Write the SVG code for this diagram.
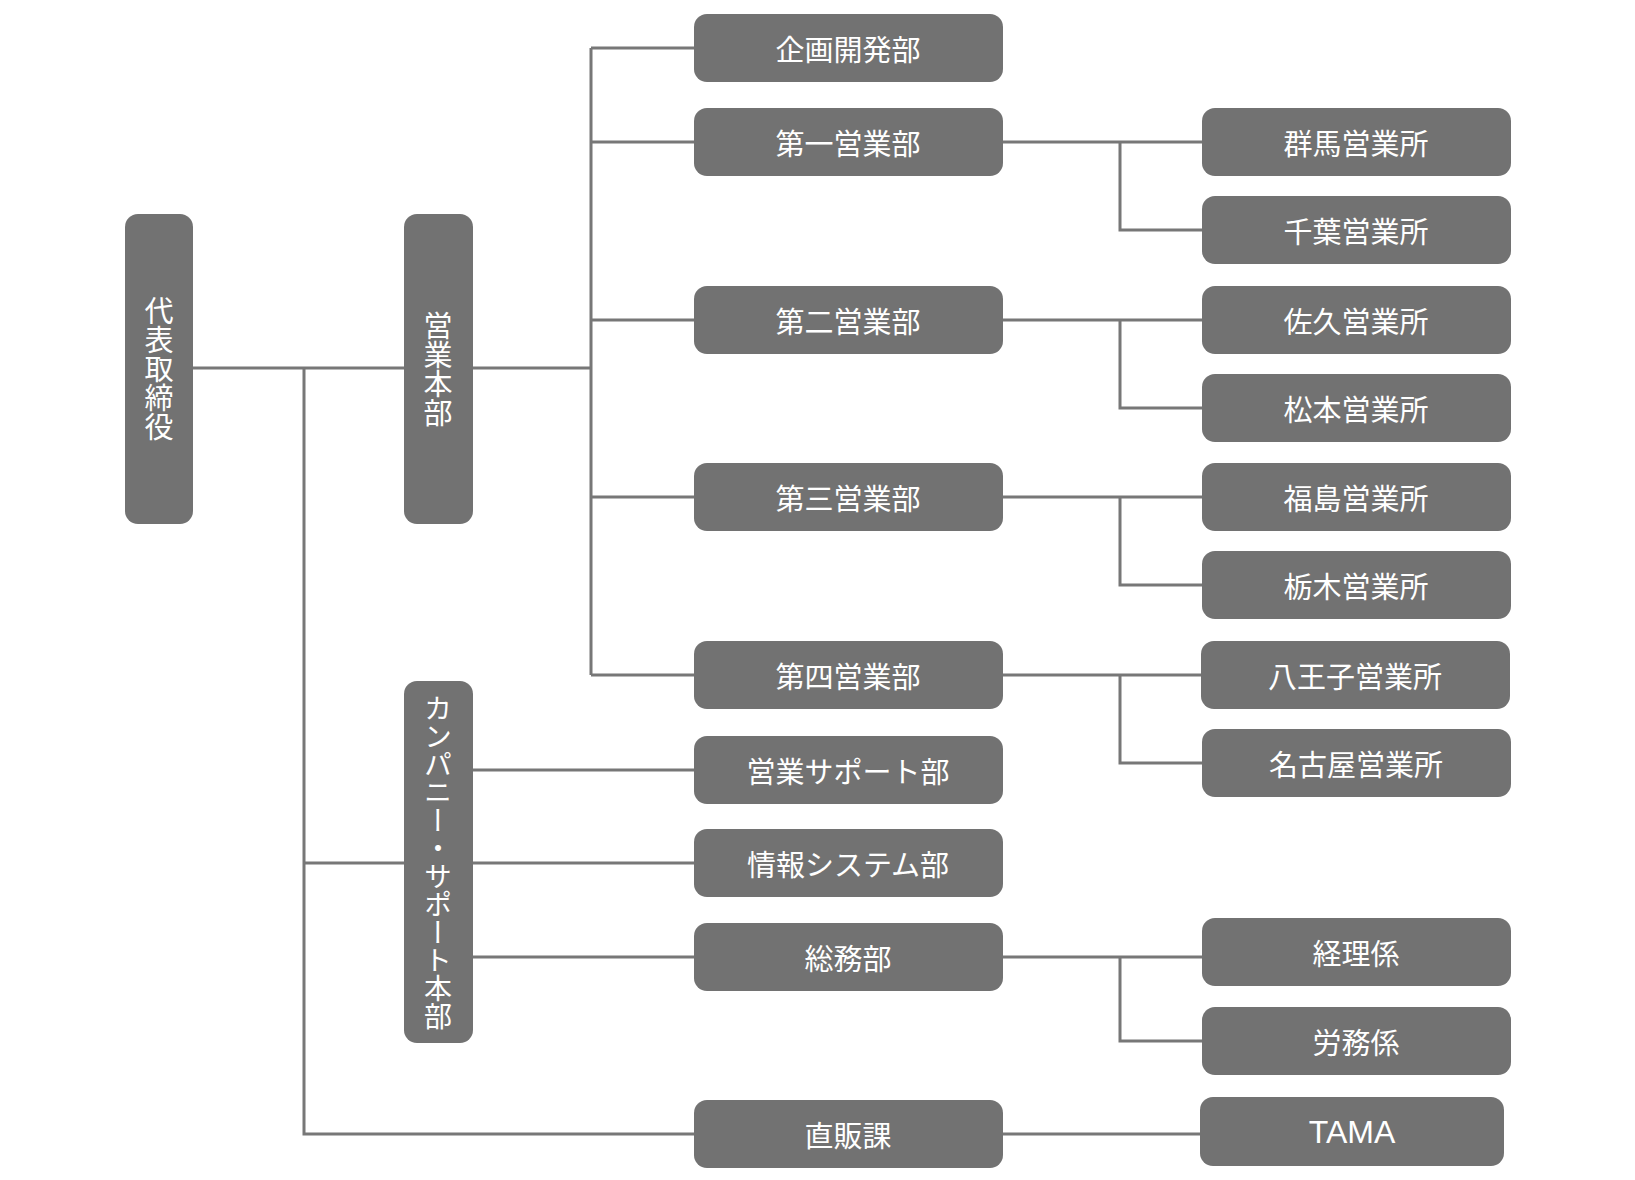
<svg xmlns="http://www.w3.org/2000/svg" width="1635" height="1180" viewBox="0 0 1635 1180">
<style>
.b{fill:#727272}
.t{fill:#fff;font-family:"Noto Sans CJK JP","Noto Sans",sans-serif;font-size:29px;text-anchor:middle;dominant-baseline:central}
.v{fill:#fff;font-family:"Noto Sans CJK JP",sans-serif;font-size:29px;writing-mode:vertical-rl;text-anchor:middle;dominant-baseline:central}
.c{stroke:#777;stroke-width:3;fill:none}
</style>
<rect width="1635" height="1180" fill="#fff"/>
<g id="connectors" class="c">
<path d="M193 368H404M304 368V1134H694M473 368H591M591 48V675M591 48H694M591 142H694M591 320H694M591 497H694M591 675H694"/>
<path d="M304 863H404M473 770H694M473 863H694M473 957H694"/>
<path d="M1003 142H1202M1120 142V230H1202M1003 320H1202M1120 320V408H1202M1003 497H1202M1120 497V585H1202M1003 675H1202M1120 675V763H1202M1003 957H1202M1120 957V1041H1202M1003 1134H1200"/>
</g>
<g id="n-ceo"><rect class="b" x="125" y="214" width="68" height="310" rx="13"/><text class="v" x="159" y="369">代表取締役</text></g>
<g id="n-eigyo"><rect class="b" x="404" y="214" width="69" height="310" rx="13"/><text class="v" x="438" y="369">営業本部</text></g>
<g id="n-company"><rect class="b" x="404" y="681" width="69" height="362" rx="13"/><text class="v" x="438" y="862" style="font-size:28px">カンパニー・サポート本部</text></g>
<g id="n-kikaku"><rect class="b" x="694" y="14" width="309" height="68" rx="13"/><text class="t" x="848" y="48">企画開発部</text></g>
<g id="n-d1"><rect class="b" x="694" y="108" width="309" height="68" rx="13"/><text class="t" x="848" y="142">第一営業部</text></g>
<g id="n-d2"><rect class="b" x="694" y="286" width="309" height="68" rx="13"/><text class="t" x="848" y="320">第二営業部</text></g>
<g id="n-d3"><rect class="b" x="694" y="463" width="309" height="68" rx="13"/><text class="t" x="848" y="497">第三営業部</text></g>
<g id="n-d4"><rect class="b" x="694" y="641" width="309" height="68" rx="13"/><text class="t" x="848" y="675">第四営業部</text></g>
<g id="n-support"><rect class="b" x="694" y="736" width="309" height="68" rx="13"/><text class="t" x="848" y="770">営業サポート部</text></g>
<g id="n-is"><rect class="b" x="694" y="829" width="309" height="68" rx="13"/><text class="t" x="848" y="863">情報システム部</text></g>
<g id="n-soumu"><rect class="b" x="694" y="923" width="309" height="68" rx="13"/><text class="t" x="848" y="957">総務部</text></g>
<g id="n-chokuhan"><rect class="b" x="694" y="1100" width="309" height="68" rx="13"/><text class="t" x="848" y="1134">直販課</text></g>
<g id="n-gunma"><rect class="b" x="1202" y="108" width="309" height="68" rx="13"/><text class="t" x="1356" y="142">群馬営業所</text></g>
<g id="n-chiba"><rect class="b" x="1202" y="196" width="309" height="68" rx="13"/><text class="t" x="1356" y="230">千葉営業所</text></g>
<g id="n-saku"><rect class="b" x="1202" y="286" width="309" height="68" rx="13"/><text class="t" x="1356" y="320">佐久営業所</text></g>
<g id="n-matsumoto"><rect class="b" x="1202" y="374" width="309" height="68" rx="13"/><text class="t" x="1356" y="408">松本営業所</text></g>
<g id="n-fukushima"><rect class="b" x="1202" y="463" width="309" height="68" rx="13"/><text class="t" x="1356" y="497">福島営業所</text></g>
<g id="n-tochigi"><rect class="b" x="1202" y="551" width="309" height="68" rx="13"/><text class="t" x="1356" y="585">栃木営業所</text></g>
<g id="n-hachioji"><rect class="b" x="1201" y="641" width="309" height="68" rx="13"/><text class="t" x="1355" y="675">八王子営業所</text></g>
<g id="n-nagoya"><rect class="b" x="1202" y="729" width="309" height="68" rx="13"/><text class="t" x="1356" y="763">名古屋営業所</text></g>
<g id="n-keiri"><rect class="b" x="1202" y="918" width="309" height="68" rx="13"/><text class="t" x="1356" y="952">経理係</text></g>
<g id="n-roumu"><rect class="b" x="1202" y="1007" width="309" height="68" rx="13"/><text class="t" x="1356" y="1041">労務係</text></g>
<g id="n-tama"><rect class="b" x="1200" y="1097" width="304" height="69" rx="13"/><text class="t" x="1352" y="1132" style="font-family:'Liberation Sans',sans-serif;font-size:32px">TAMA</text></g>
</svg>
